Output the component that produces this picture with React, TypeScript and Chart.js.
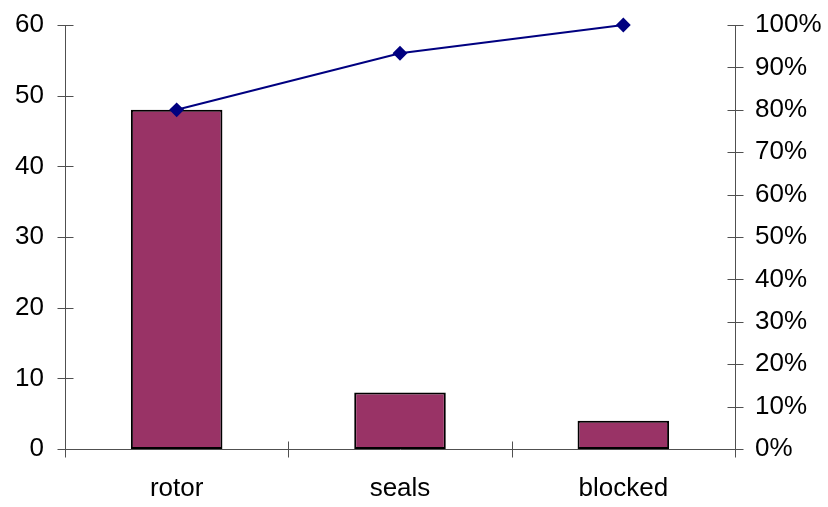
import React, { useEffect, useRef } from "react";
import { Chart, registerables } from "chart.js";

Chart.register(...registerables);

const categories = ["rotor", "seals", "blocked"];
const counts = [48, 8, 4];
const cumulativePct = [80, 93.33, 100];
const leftTicks = [0, 10, 20, 30, 40, 50, 60];
const rightTicks = [0, 10, 20, 30, 40, 50, 60, 70, 80, 90, 100];

const AXIS_COLOR = "#505050";

const crossTicks = {
  id: "crossTicks",
  afterDatasetsDraw(chart: any) {
    const { ctx, chartArea, scales } = chart;
    const { left, right, top, bottom } = chartArea;
    ctx.save();
    ctx.strokeStyle = AXIS_COLOR;
    ctx.lineWidth = 1;
    const L = Math.round(left) + 0.5;
    const R = Math.round(right) + 0.5;
    const B = Math.round(bottom) + 0.5;
    ctx.beginPath();
    ctx.moveTo(L, Math.round(top));
    ctx.lineTo(L, B);
    ctx.moveTo(R, Math.round(top));
    ctx.lineTo(R, B);
    ctx.moveTo(L, B);
    ctx.lineTo(R, B);
    scales.y.ticks.forEach((t: any) => {
      const y = Math.round(scales.y.getPixelForValue(t.value)) + 0.5;
      ctx.moveTo(L - 8, y);
      ctx.lineTo(L + 8, y);
    });
    scales.y1.ticks.forEach((t: any) => {
      const y = Math.round(scales.y1.getPixelForValue(t.value)) + 0.5;
      ctx.moveTo(R - 8, y);
      ctx.lineTo(R + 8, y);
    });
    const n = categories.length;
    for (let i = 0; i <= n; i++) {
      const x = Math.round(left + ((right - left) * i) / n) + 0.5;
      ctx.moveTo(x, B - 8);
      ctx.lineTo(x, B + 8);
    }
    ctx.stroke();
    ctx.restore();
  },
};

export default function App() {
  const ref = useRef<HTMLCanvasElement | null>(null);
  useEffect(() => {
    if (!ref.current) return;
    const font = { family: "'Liberation Sans', Arial, sans-serif", size: 26 };
    const chart = new Chart(ref.current, {
      type: "bar",
      data: {
        labels: categories,
        datasets: [
          {
            type: "line",
            data: cumulativePct,
            yAxisID: "y1",
            borderColor: "#000080",
            backgroundColor: "#000080",
            borderWidth: 2,
            pointStyle: "rectRot",
            pointRadius: 6,
            pointBackgroundColor: "#000080",
            pointBorderColor: "#000080",
            tension: 0,
            clip: false,
            order: 0,
          } as any,
          {
            type: "bar",
            data: counts,
            yAxisID: "y",
            backgroundColor: "#993366",
            borderColor: "#000000",
            borderWidth: 2,
            borderSkipped: false,
            categoryPercentage: 1,
            barPercentage: 0.41,
            order: 1,
          } as any,
        ],
      },
      plugins: [crossTicks],
      options: {
        animation: false,
        responsive: false,
        maintainAspectRatio: false,
        layout: { padding: { top: 0, left: 0, right: 0, bottom: 0 } },
        plugins: { legend: { display: false }, tooltip: { enabled: false } },
        scales: {
          x: {
            offset: true,
            grid: { display: false, drawTicks: false },
            border: { display: false },
            ticks: { font, color: "#000", padding: 24 },
            afterFit(s: any) {
              s.height = 58;
              s.paddingLeft = 0;
              s.paddingRight = 0;
            },
          },
          y: {
            position: "left",
            min: 0,
            max: 60,
            afterBuildTicks(s: any) {
              s.ticks = leftTicks.map((v) => ({ value: v }));
            },
            grid: { display: false, drawTicks: false },
            border: { display: false },
            ticks: { font, color: "#000", padding: 21 },
            afterFit(s: any) {
              s.width = 65;
              s.paddingTop = 25;
              s.paddingBottom = 0;
            },
          },
          y1: {
            position: "right",
            min: 0,
            max: 100,
            afterBuildTicks(s: any) {
              s.ticks = rightTicks.map((v) => ({ value: v }));
            },
            grid: { display: false, drawTicks: false },
            border: { display: false },
            ticks: {
              font,
              color: "#000",
              padding: 20,
              callback: (v: any) => v + "%",
            },
            afterFit(s: any) {
              s.width = 93;
              s.paddingTop = 25;
              s.paddingBottom = 0;
            },
          },
        },
      },
    });
    return () => chart.destroy();
  }, []);
  return (
    <div style={{ position: "fixed", left: 0, top: 0, width: 828, height: 507, background: "#fff" }}>
      <canvas ref={ref} width={828} height={507} style={{ width: 828, height: 507 }} />
    </div>
  );
}
